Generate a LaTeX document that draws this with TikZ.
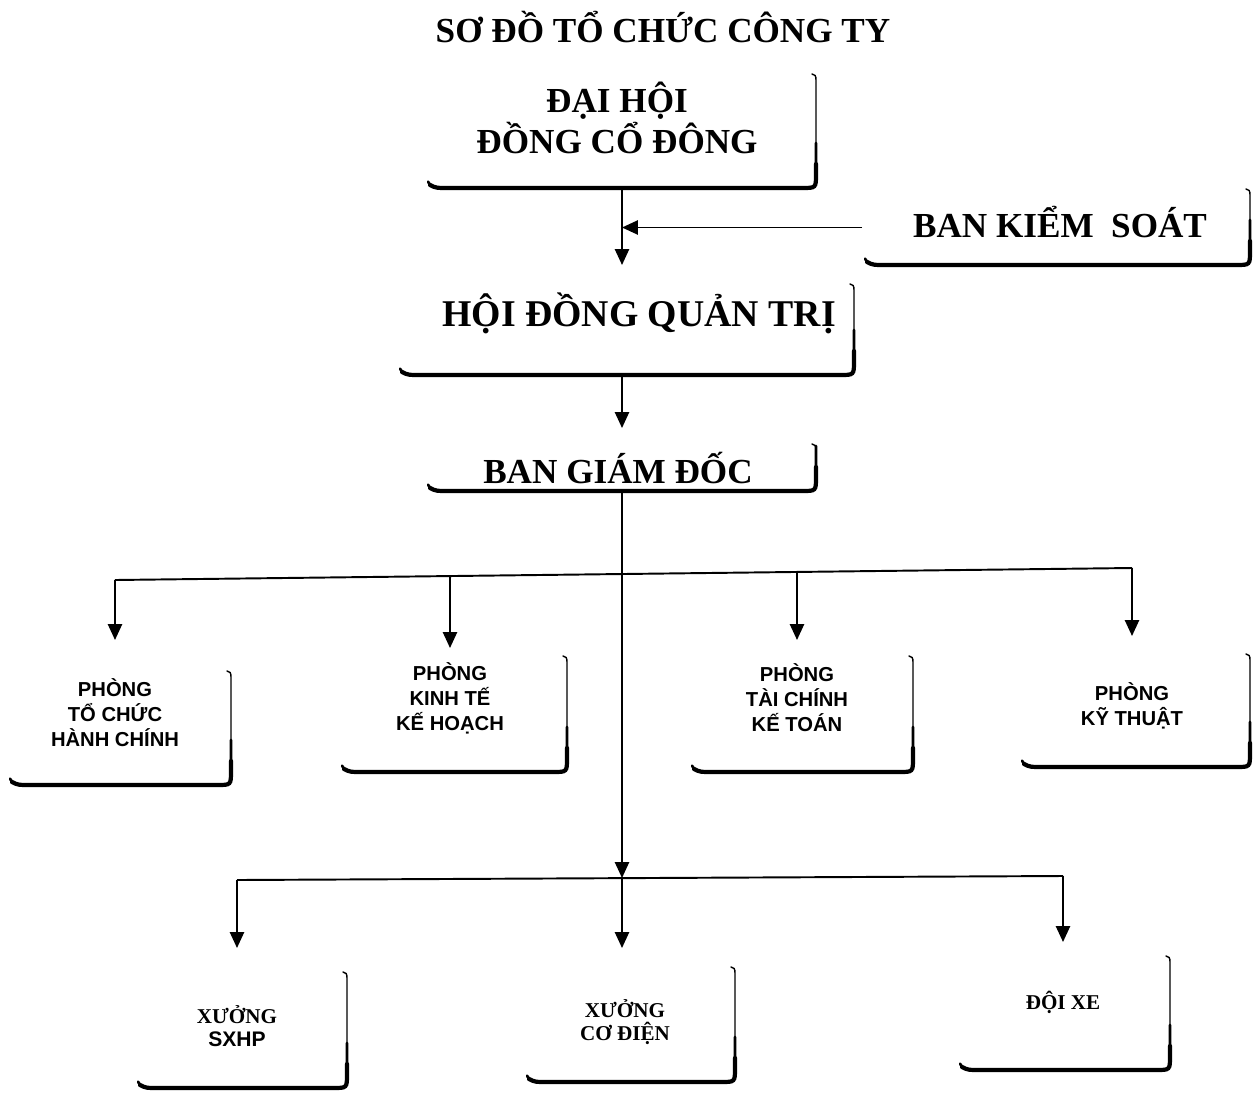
\documentclass[tikz,border=0pt]{standalone}
\usepackage{fontspec}
\setmainfont{Liberation Serif}
\newfontfamily\sansvn{Liberation Sans}
\usetikzlibrary{arrows.meta,calc}
\tikzset{
  x=0.02cm, y=-0.02cm,
  thinedge/.style={line width=0.8pt, line cap=round},
  midedge/.style={line width=1.5pt, line cap=round},
  thickedge/.style={line width=2.4pt, line cap=round},
  arr/.style={line width=1.1pt, -{Triangle[length=9pt,width=8pt]}},
  bus/.style={line width=1.1pt},
  bigtxt/.style={font=\fontsize{20}{23}\selectfont\bfseries, align=center, inner sep=0},
  depttxt/.style={font=\fontsize{11.5}{14.2}\selectfont\sansvn\bfseries, align=center, inner sep=0},
  smalltxt/.style={font=\fontsize{12}{13.5}\selectfont\bfseries, align=center, inner sep=0},
}
\newcommand\mkbox[5]{%
  \node[inner sep=0, outer sep=0, minimum width={(#4-#2)*0.02cm}, minimum height={(#5-#3)*0.02cm}] (#1) at ({(#2+#4)/2},{(#3+#5)/2}) {};
  \draw[thinedge] ($(#1.north east)+(-4,-1)$) .. controls ($(#1.north east)+(-1,-1)$) and ($(#1.north east)+(0,1)$) .. ($(#1.north east)+(0,5)$)
     -- ($(#1.south east)+(0,-14)$) .. controls (#1.south east) .. ($(#1.south east)+(-14,0)$)
     -- ($(#1.south west)+(18,0)$) .. controls ($(#1.south west)+(5,0)$) .. ($(#1.south west)+(0,-7)$);
  \draw[midedge] ($(#1.south east)+(0,-45)$) -- ($(#1.south east)+(0,-14)$) .. controls (#1.south east) .. ($(#1.south east)+(-14,0)$)
     -- ($(#1.south west)+(18,0)$) .. controls ($(#1.south west)+(5,0)$) .. ($(#1.south west)+(0,-6)$);
  \draw[thickedge] ($(#1.south east)+(0,-24)$) -- ($(#1.south east)+(0,-14)$) .. controls (#1.south east) .. ($(#1.south east)+(-14,0)$)
     -- ($(#1.south west)+(22,0)$) .. controls ($(#1.south west)+(8,0)$) .. ($(#1.south west)+(2,-3)$);
}
\begin{document}
\begin{tikzpicture}
\useasboundingbox (0,0) rectangle (1257,1092);

% title
\node[bigtxt] (title) at (663,27) {SƠ ĐỒ TỔ CHỨC CÔNG TY};

% boxes
\mkbox{dhcd}{428}{75}{816}{188}
\mkbox{bks}{865}{190}{1250}{265}
\mkbox{hdqt}{400}{285}{854}{375}
\mkbox{bgd}{428}{445}{816}{491}
\mkbox{tchc}{10}{672}{231}{785}
\mkbox{ktkh}{342}{657}{567}{772}
\mkbox{tckt}{692}{657}{913}{772}
\mkbox{kt}{1022}{655}{1250}{767}
\mkbox{sxhp}{138}{973}{347}{1088}
\mkbox{cd}{527}{968}{735}{1082}
\mkbox{dx}{960}{957}{1170}{1070}

% texts
\node[bigtxt] (dhcdT) at (617,118) {ĐẠI HỘI\\ĐỒNG CỔ ĐÔNG};
\node[bigtxt] (bksT) at (1060,222) {BAN KIỂM\ \ SOÁT};
\node[bigtxt, font=\fontsize{21.5}{24}\selectfont\bfseries] (hdqtT) at (639,313) {HỘI ĐỒNG QUẢN TRỊ};
\node[bigtxt] (bgdT) at (618,468) {BAN GIÁM ĐỐC};
\node[depttxt] (tchcT) at (115,713) {PHÒNG\\TỔ CHỨC\\HÀNH CHÍNH};
\node[depttxt] (ktkhT) at (450,698) {PHÒNG\\KINH TẾ\\KẾ HOẠCH};
\node[depttxt] (tcktT) at (797,698) {PHÒNG\\TÀI CHÍNH\\KẾ TOÁN};
\node[depttxt] (ktT) at (1132,706) {PHÒNG\\KỸ THUẬT};
\node[smalltxt] (sxhpT) at (237,1026) {XƯỞNG\\{\sansvn SXHP}};
\node[smalltxt] (cdT) at (625,1022) {XƯỞNG\\CƠ ĐIỆN};
\node[smalltxt] (dxT) at (1063,1002) {ĐỘI XE};

% bus coordinates
\coordinate (u1) at (115,580);
\coordinate (u2) at (450,576);
\coordinate (u3) at (797,572);
\coordinate (u4) at (1132,568);
\coordinate (l1) at (237,880);
\coordinate (l2) at (622,878);
\coordinate (l3) at (1063,876);

% connectors
\draw[arr, shorten >=0.4cm] (dhcd.south) -- (dhcd.south |- hdqt.north);
\draw[arr] ($(bks.west)+(-3,0)$) -- (bks.west -| dhcd.south);
\draw[arr, shorten >=0.34cm] (hdqt.south -| bgd.south) -- (bgd.north);
\draw[arr] (bgd.south) -- (l2);
\draw[bus] (u1) -- (u4);
\draw[bus] (l1) -- (l3);
\draw[arr, shorten >=0.64cm] (u1) -- (u1 |- tchc.north);
\draw[arr, shorten >=0.18cm] (u2) -- (u2 |- ktkh.north);
\draw[arr, shorten >=0.34cm] (u3) -- (u3 |- tckt.north);
\draw[arr, shorten >=0.38cm] (u4) -- (u4 |- kt.north);
\draw[arr, shorten >=0.5cm] (l1) -- (l1 |- sxhp.north);
\draw[arr, shorten >=0.4cm] (l2) -- (l2 |- cd.north);
\draw[arr, shorten >=0.3cm] (l3) -- (l3 |- dx.north);
\end{tikzpicture}
\end{document}
